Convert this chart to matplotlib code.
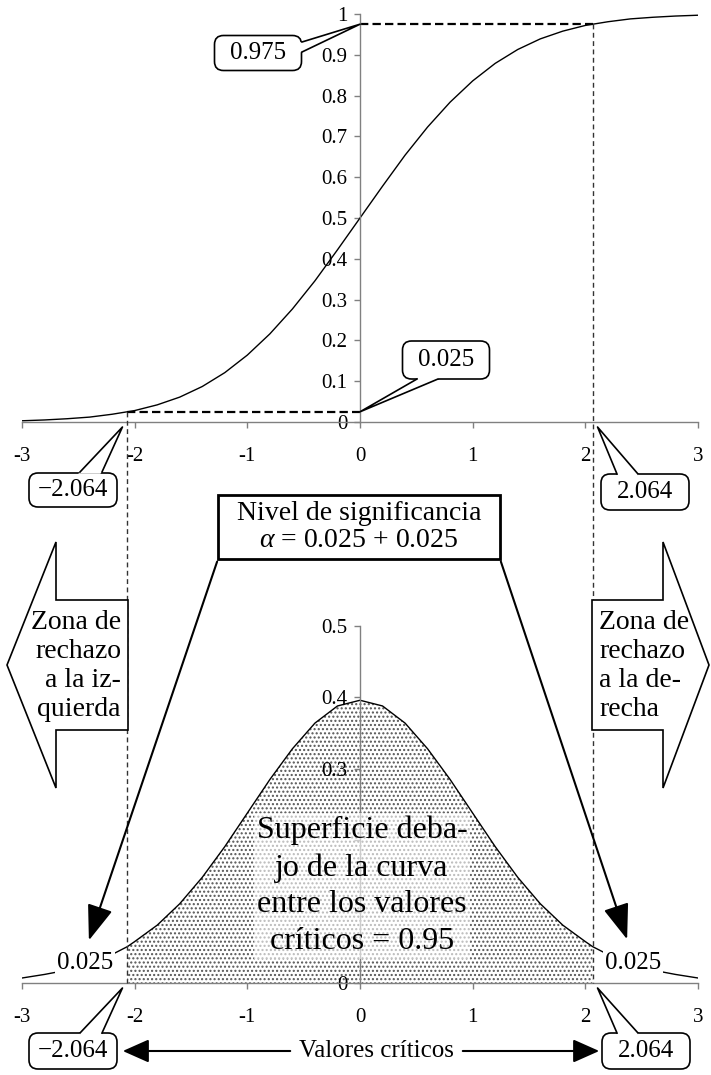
import numpy as np
import matplotlib.pyplot as plt
from matplotlib.patches import FancyBboxPatch, Polygon, FancyArrowPatch

plt.rcParams['font.family'] = ['Liberation Serif', 'DejaVu Serif']
plt.rcParams['mathtext.fontset'] = 'custom'
plt.rcParams['mathtext.it'] = 'Liberation Serif:italic'
plt.rcParams['mathtext.rm'] = 'Liberation Serif'
plt.rcParams['hatch.linewidth'] = 1.0
plt.rcParams['lines.scale_dashes'] = False
plt.rcParams['axes.unicode_minus'] = False

# values (t distribution)
t_vals = [-3.0, -2.8, -2.6, -2.4, -2.2, -2.0, -1.8, -1.6, -1.4, -1.2, -1.0,
          -0.8, -0.6, -0.4, -0.2, 0.0, 0.2, 0.4, 0.6, 0.8, 1.0,
          1.2, 1.4, 1.6, 1.8, 2.0, 2.2, 2.4, 2.6, 2.8, 3.0]
cdf_vals = [0.003, 0.005, 0.008, 0.012, 0.019, 0.028, 0.042, 0.061, 0.087, 0.121, 0.164,
            0.216, 0.277, 0.346, 0.422, 0.500, 0.578, 0.654, 0.723, 0.784, 0.836,
            0.879, 0.913, 0.939, 0.958, 0.972, 0.981, 0.988, 0.992, 0.995, 0.997]
pdf_vals = [0.007, 0.012, 0.018, 0.027, 0.040, 0.058, 0.081, 0.111, 0.148, 0.191, 0.238,
            0.285, 0.328, 0.364, 0.388, 0.396, 0.388, 0.364, 0.328, 0.285, 0.238,
            0.191, 0.148, 0.111, 0.081, 0.058, 0.040, 0.027, 0.018, 0.012, 0.007]
t_crit = 2.064
pdf_at_crit = 0.051
p_low, p_high = 0.025, 0.975

x_ticks = [-3, -2, -1, 0, 1, 2, 3]
x_ticklabels = ['-3', '-2', '-1', '0', '1', '2', '3']
top_yticks = [0, 0.1, 0.2, 0.3, 0.4, 0.5, 0.6, 0.7, 0.8, 0.9, 1.0]
top_ylabels = ['0', '0.1', '0.2', '0.3', '0.4', '0.5', '0.6', '0.7', '0.8', '0.9', '1']
bot_yticks = [0, 0.1, 0.2, 0.3, 0.4, 0.5]
# 0.1 and 0.2 sit behind the text box in the original
bot_ylabels = ['0', '', '', '0.3', '0.4', '0.5']

W, H = 711, 1075
fig = plt.figure(figsize=(W / 100, H / 100), dpi=100)


def rect(x0, y0, x1, y1):
    return [x0 / W, 1 - y1 / H, (x1 - x0) / W, (y1 - y0) / H]


def style_axis(ax, ymax, yticks, ylabels):
    ax.set_xlim(-3, 3)
    ax.set_ylim(0, ymax)
    ax.patch.set_visible(False)
    for s in ('top', 'right'):
        ax.spines[s].set_visible(False)
    ax.spines['left'].set_position(('data', 0))
    for s in ('left', 'bottom'):
        ax.spines[s].set_color('#808080')
        ax.spines[s].set_linewidth(1.0)
    ax.set_xticks(x_ticks)
    ax.set_xticklabels(x_ticklabels)
    ax.set_yticks(yticks)
    ax.set_yticklabels(ylabels)
    ax.tick_params(axis='x', direction='out', length=4, width=1, color='#808080',
                   labelsize=15, pad=14)
    ax.tick_params(axis='y', direction='out', length=4, width=1, color='#808080',
                   labelsize=15, pad=5)


ax1 = fig.add_axes(rect(22, 14, 698, 422))
ax2 = fig.add_axes(rect(22, 626, 698, 983))
style_axis(ax1, 1.0, top_yticks, top_ylabels)
style_axis(ax2, 0.5, bot_yticks, bot_ylabels)

# curves, with the critical points put into the sequence
xs = list(t_vals)
ys = list(pdf_vals)
for c in (-t_crit, t_crit):
    i = int(np.searchsorted(xs, c))
    xs.insert(i, c)
    ys.insert(i, pdf_at_crit)
xs = np.array(xs)
ys = np.array(ys)

ax1.plot(t_vals, cdf_vals, color='black', lw=1)
ax1.plot([-t_crit, 0], [p_low, p_low], color='black', lw=1.6, dashes=(6, 3))
ax1.plot([0, t_crit], [p_high, p_high], color='black', lw=1.6, dashes=(6, 3))

inside = np.abs(xs) <= t_crit + 1e-9
ax2.fill_between(xs[inside], ys[inside], 0, facecolor='white', edgecolor='#555555',
                 hatch='....', linewidth=0)
ax2.plot(xs, ys, color='black', lw=1)

# overlay in pixel coordinates for the annotations
ov = fig.add_axes([0, 0, 1, 1], zorder=10)
ov.set_xlim(0, W)
ov.set_ylim(H, 0)
ov.axis('off')


def px(ax, x, y):
    return ov.transData.inverted().transform(ax.transData.transform((x, y)))


# vertical dashed lines at the critical values
for c, p in ((-t_crit, p_low), (t_crit, p_high)):
    a = px(ax1, c, p)
    b = px(ax2, c, 0)
    ov.plot([a[0], b[0]], [a[1], b[1]], color='#333333', lw=1, dashes=(3.5, 2.5), zorder=1)


def callout(text, cx, cy, tip, b1, b2, w=88, h=36, fs=18):
    x0, y0 = cx - w / 2, cy - h / 2
    ov.add_patch(FancyBboxPatch((x0, y0), w, h, boxstyle='round,pad=0,rounding_size=9',
                                fc='white', ec='black', lw=1.2, zorder=3))
    mx, my = (b1[0] + b2[0]) / 2, (b1[1] + b2[1]) / 2
    d = np.array([cx - mx, cy - my])
    d = d / np.hypot(*d) * 2.5
    ov.add_patch(Polygon([(b1[0] + d[0], b1[1] + d[1]), b1, tip, b2,
                          (b2[0] + d[0], b2[1] + d[1])],
                         closed=True, fc='white', ec='none', zorder=4))
    ov.plot([b1[0], tip[0], b2[0]], [b1[1], tip[1], b2[1]], color='black', lw=1.2, zorder=5)
    ov.text(cx, cy, text, ha='center', va='center', fontsize=fs, zorder=6)


callout('0.975', 258, 53, px(ax1, 0, p_high), (302, 42), (302, 52), w=87, h=35)
callout('0.025', 446, 360, px(ax1, 0, p_low), (417, 379), (438, 379), w=87, h=38)
t = px(ax1, -t_crit, 0)
callout('\u22122.064', 73, 490, (t[0] - 5, t[1] + 5), (80, 472), (102, 472), h=34)
t = px(ax1, t_crit, 0)
callout('2.064', 645, 492, (t[0] + 5, t[1] + 5), (617, 474), (638, 474), h=36)
t = px(ax2, -t_crit, 0)
callout('\u22122.064', 73, 1051, (t[0] - 5, t[1] + 5), (80, 1033), (102, 1033), h=36)
t = px(ax2, t_crit, 0)
callout('2.064', 646, 1051, (t[0] + 5, t[1] + 5), (617, 1033), (638, 1033), h=36)

# rejection zone block arrows
left_arrow = [(128, 600), (56, 600), (56, 542), (7, 665), (56, 788), (56, 730), (128, 730)]
right_arrow = [(592, 600), (663, 600), (663, 542), (709, 665), (663, 788), (663, 730), (592, 730)]
for pts in (left_arrow, right_arrow):
    ov.add_patch(Polygon(pts, closed=True, fc='white', ec='black', lw=1.2, zorder=2))
ov.text(121, 666, 'Zona de\nrechazo\na la iz-\nquierda', ha='right', va='center',
        multialignment='right', fontsize=20, linespacing=1.2, zorder=3)
ov.text(599, 666, 'Zona de\nrechazo\na la de-\nrecha', ha='left', va='center',
        multialignment='left', fontsize=20, linespacing=1.2, zorder=3)

# significance level box and arrows
ov.add_patch(FancyBboxPatch((218, 495), 282, 64, boxstyle='square,pad=0',
                            fc='white', ec='black', lw=2, zorder=3))
ov.text(359, 527, 'Nivel de significancia\n$\\alpha$ = 0.025 + 0.025', ha='center',
        va='center', fontsize=20, linespacing=1.1, zorder=4)
for start, end in (((218, 559), (88, 943)), ((500, 559), (628, 942))):
    ov.add_patch(FancyArrowPatch(start, end, arrowstyle='-|>,head_length=1.1,head_width=0.4',
                                 mutation_scale=20, lw=1.5, color='black', zorder=3))

ov.text(85, 963, '0.025', ha='center', va='center', fontsize=18, zorder=4,
        bbox=dict(fc='white', ec='none', pad=1))
ov.text(633, 963, '0.025', ha='center', va='center', fontsize=18, zorder=4,
        bbox=dict(fc='white', ec='none', pad=1))

ov.text(362, 886, 'Superficie deba-\njo de la curva\nentre los valores\ncr\u00edticos = 0.95',
        ha='center', va='center', fontsize=23, linespacing=1.35, zorder=4,
        bbox=dict(fc='white', ec='none', alpha=0.6, pad=2))

# critical values
ov.text(376, 1051, 'Valores cr\u00edticos', ha='center', va='center', fontsize=18, zorder=4)
for start, end in (((293, 1051), (120, 1051)), ((460, 1051), (602, 1051))):
    ov.add_patch(FancyArrowPatch(start, end, arrowstyle='-|>,head_length=0.9,head_width=0.4',
                                 mutation_scale=18, lw=1.5, color='black', zorder=3))

fig.savefig('out.png', dpi=100)
